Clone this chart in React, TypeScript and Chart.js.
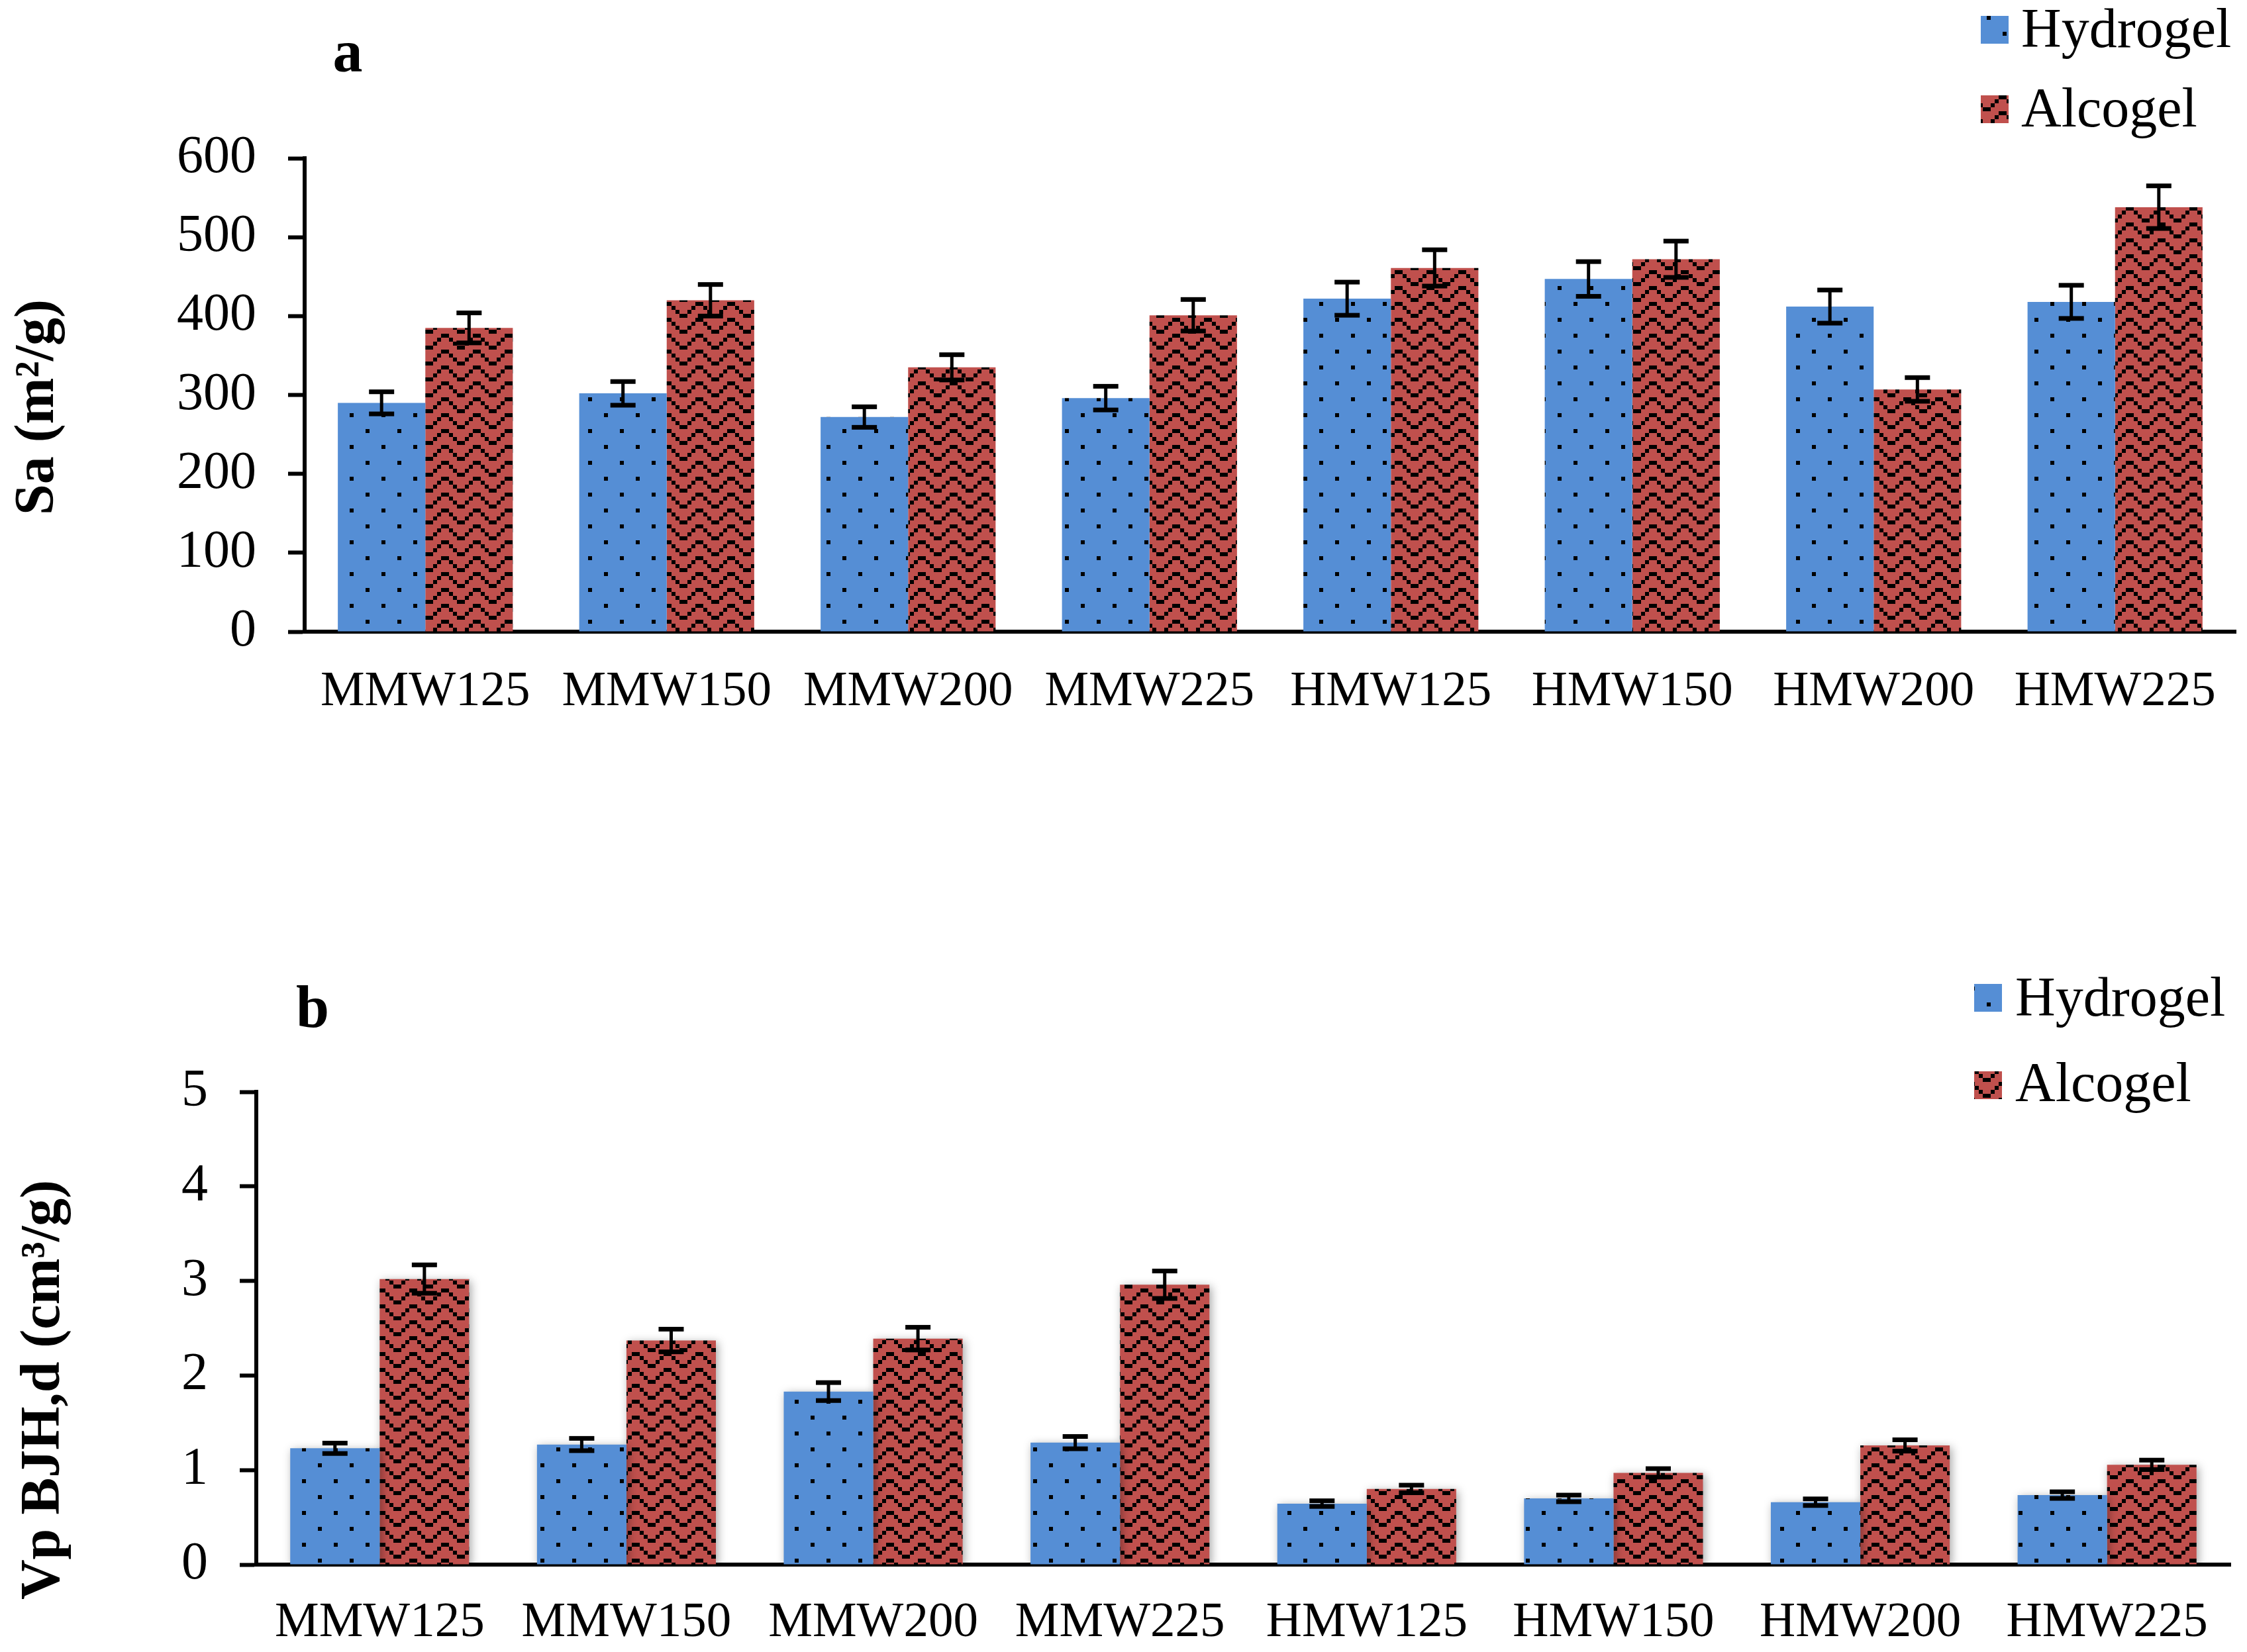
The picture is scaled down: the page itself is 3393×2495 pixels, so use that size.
import React, { useEffect, useRef } from 'react';
import { Chart, registerables } from 'chart.js';

Chart.register(...registerables);

// ---- data ----
const categories = ['MMW125', 'MMW150', 'MMW200', 'MMW225', 'HMW125', 'HMW150', 'HMW200', 'HMW225'];
const seriesNames = ['Hydrogel', 'Alcogel'];

// panel a: Sa (m²/g)
const saHydrogel = [290, 302, 272, 296, 422, 447, 412, 418];
const saHydrogelErr = [14, 15, 13, 15, 21, 22, 21, 21];
const saAlcogel = [385, 420, 335, 401, 461, 472, 307, 538];
const saAlcogelErr = [19, 20, 16, 20, 23, 23, 15, 27];
const saTicks = [0, 100, 200, 300, 400, 500, 600];

// panel b: Vp BJH,d (cm³/g)
const vpHydrogel = [1.23, 1.27, 1.83, 1.29, 0.645, 0.7, 0.66, 0.735];
const vpHydrogelErr = [0.055, 0.065, 0.095, 0.065, 0.03, 0.035, 0.035, 0.035];
const vpAlcogel = [3.02, 2.37, 2.39, 2.96, 0.8, 0.97, 1.26, 1.055];
const vpAlcogelErr = [0.15, 0.12, 0.12, 0.145, 0.04, 0.045, 0.06, 0.05];
const vpTicks = [0, 1, 2, 3, 4, 5];

const SERIF = "'Liberation Serif', 'Times New Roman', serif";
const BLUE = '#558ED5';
const RED = '#C0504D';
const W = 3393;

function makePattern(ctx: CanvasRenderingContext2D, color: string, kind: 'dots' | 'zigzag') {
  const u = 6;
  const c = document.createElement('canvas');
  c.width = 8 * u;
  c.height = kind === 'dots' ? 8 * u : 4 * u;
  const g = c.getContext('2d')!;
  g.fillStyle = color;
  g.fillRect(0, 0, c.width, c.height);
  g.fillStyle = '#000';
  if (kind === 'dots') {
    g.fillRect(0, 0, u, u);
    g.fillRect(4 * u, 4 * u, u, u);
  } else {
    [[0, 7], [1, 6], [2, 5], [3, 4]].forEach((cols, row) => {
      cols.forEach((col) => g.fillRect(col * u, row * u, u, u));
    });
  }
  return ctx.createPattern(c, 'repeat') as CanvasPattern;
}

interface PanelProps {
  top: number;
  height: number;
  area: { left: number; right: number; top: number; bottom: number };
  hydro: number[];
  hydroErr: number[];
  alco: number[];
  alcoErr: number[];
  ticks: number[];
  letter: { text: string; x: number; y: number };
  yTitle: { text: string; x: number; y: number };
  legend: { x: number; textX: number; ys: number[]; baselines: number[] };
  labelPad: number;
  shadow: boolean;
}

const BarPanel: React.FC<PanelProps> = (p) => {
  const canvasRef = useRef<HTMLCanvasElement>(null);
  const chartRef = useRef<Chart | null>(null);

  useEffect(() => {
    if (!canvasRef.current) return;
    const ctx = canvasRef.current.getContext('2d');
    if (!ctx) return;

    const fills = [makePattern(ctx, BLUE, 'dots'), makePattern(ctx, RED, 'zigzag')];
    const errs = [p.hydroErr, p.alcoErr];

    const shadowPlugin = {
      id: 'barShadow',
      beforeDatasetsDraw(chart: Chart) {
        const c = chart.ctx;
        c.save();
        if (p.shadow) {
          c.shadowColor = 'rgba(0,0,0,0.35)';
          c.shadowBlur = 14;
          c.shadowOffsetX = 3;
          c.shadowOffsetY = 3;
        }
      },
      afterDatasetsDraw(chart: Chart) {
        chart.ctx.restore();
      },
    };

    const errorBars = {
      id: 'errorBars',
      afterDatasetsDraw(chart: Chart) {
        const c = chart.ctx;
        const y = chart.scales.y;
        c.save();
        c.strokeStyle = '#000';
        c.fillStyle = '#000';
        c.lineWidth = 5;
        chart.data.datasets.forEach((ds, di) => {
          const meta = chart.getDatasetMeta(di);
          meta.data.forEach((bar: any, i: number) => {
            const v = ds.data[i] as number;
            const e = errs[di][i];
            const yt = y.getPixelForValue(v + e);
            const yb = y.getPixelForValue(v - e);
            c.beginPath();
            c.moveTo(bar.x, yt);
            c.lineTo(bar.x, yb);
            c.stroke();
            c.fillRect(bar.x - 19, yt - 3.5, 38, 7);
            c.fillRect(bar.x - 19, yb - 3.5, 38, 7);
          });
        });
        c.restore();
      },
    };

    const decor = {
      id: 'decor',
      afterDraw(chart: Chart) {
        const c = chart.ctx;
        c.save();
        c.fillStyle = '#000';
        // panel letter
        c.font = `bold 90px ${SERIF}`;
        c.textAlign = 'center';
        c.textBaseline = 'alphabetic';
        c.fillText(p.letter.text, p.letter.x, p.letter.y);
        // y axis title
        c.save();
        c.translate(p.yTitle.x, p.yTitle.y);
        c.rotate(-Math.PI / 2);
        c.font = `bold 84px ${SERIF}`;
        c.fillText(p.yTitle.text, 0, 0);
        c.restore();
        // legend
        c.font = `84px ${SERIF}`;
        c.textAlign = 'left';
        seriesNames.forEach((name, i) => {
          c.fillStyle = fills[i];
          c.fillRect(p.legend.x, p.legend.ys[i], 42, 42);
          c.fillStyle = '#000';
          c.fillText(name, p.legend.textX, p.legend.baselines[i]);
        });
        c.restore();
      },
    };

    chartRef.current = new Chart(ctx, {
      type: 'bar',
      data: {
        labels: categories,
        datasets: [
          { label: seriesNames[0], data: p.hydro, backgroundColor: fills[0], borderWidth: 0, categoryPercentage: 0.725, barPercentage: 1 },
          { label: seriesNames[1], data: p.alco, backgroundColor: fills[1], borderWidth: 0, categoryPercentage: 0.725, barPercentage: 1 },
        ],
      },
      options: {
        responsive: false,
        animation: false,
        devicePixelRatio: 1,
        layout: { padding: { top: p.area.top, right: W - p.area.right, left: 0, bottom: 0 } },
        plugins: { legend: { display: false }, tooltip: { enabled: false } },
        scales: {
          x: {
            z: 1,
            afterFit: (s: any) => { s.height = p.height - p.area.bottom; },
            grid: { display: true, drawOnChartArea: false, drawTicks: false },
            border: { display: true, color: '#000', width: 6 },
            ticks: { color: '#000', font: { family: SERIF, size: 75 }, padding: p.labelPad, maxRotation: 0, autoSkip: false },
          },
          y: {
            z: 1,
            min: p.ticks[0],
            max: p.ticks[p.ticks.length - 1],
            afterFit: (s: any) => { s.width = p.area.left; },
            afterBuildTicks: (s: any) => { s.ticks = p.ticks.map((v) => ({ value: v })); },
            grid: { drawOnChartArea: false, drawTicks: true, tickLength: 25, tickWidth: 6, tickColor: '#000' },
            border: { display: true, color: '#000', width: 6 },
            ticks: { color: '#000', font: { family: SERIF, size: 80 }, padding: 48 },
          },
        },
      },
      plugins: [shadowPlugin, errorBars, decor],
    });

    return () => {
      chartRef.current?.destroy();
      chartRef.current = null;
    };
  }, []);

  return (
    <canvas
      ref={canvasRef}
      width={W}
      height={p.height}
      style={{ position: 'absolute', left: 0, top: p.top, width: W, height: p.height }}
    />
  );
};

const App: React.FC = () => {
  return (
    <div style={{ position: 'absolute', left: 0, top: 0, width: W, height: 2495, background: '#fff', overflow: 'hidden' }}>
      <BarPanel
        top={0}
        height={1250}
        area={{ left: 460, right: 3376, top: 239, bottom: 954 }}
        hydro={saHydrogel}
        hydroErr={saHydrogelErr}
        alco={saAlcogel}
        alcoErr={saAlcogelErr}
        ticks={saTicks}
        letter={{ text: 'a', x: 525, y: 108 }}
        yTitle={{ text: 'Sa (m²/g)', x: 80, y: 615 }}
        legend={{ x: 2991, textX: 3052, ys: [24, 144], baselines: [71, 191] }}
        labelPad={46}
        shadow={false}
      />
      <BarPanel
        top={1250}
        height={1245}
        area={{ left: 387, right: 3368, top: 399, bottom: 1113 }}
        hydro={vpHydrogel}
        hydroErr={vpHydrogelErr}
        alco={vpAlcogel}
        alcoErr={vpAlcogelErr}
        ticks={vpTicks}
        letter={{ text: 'b', x: 472, y: 301 }}
        yTitle={{ text: 'Vp BJH,d (cm³/g)', x: 89, y: 849 }}
        legend={{ x: 2981, textX: 3043, ys: [236, 368], baselines: [284, 413] }}
        labelPad={43}
        shadow={true}
      />
    </div>
  );
};

export default App;
